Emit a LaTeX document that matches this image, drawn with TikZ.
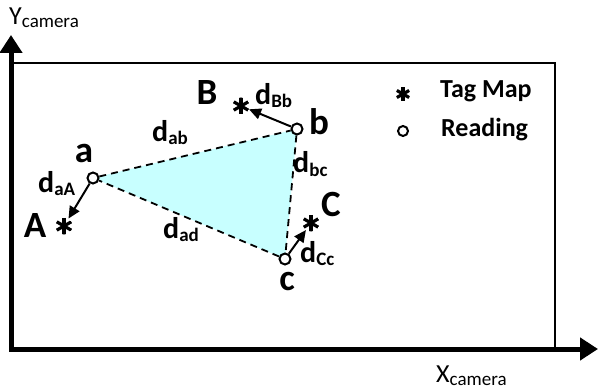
\documentclass[tikz,border=0pt]{standalone}
\usepackage{fontspec}
\setmainfont{Carlito}
\usetikzlibrary{arrows.meta,backgrounds}
\definecolor{tricyan}{RGB}{200,255,255}
\newcommand{\dlab}[1]{{\fontsize{30}{30}\selectfont d}\raisebox{-3pt}{\fontsize{19}{19}\selectfont #1}}
\newcommand{\axlab}[2]{{\fontsize{26}{26}\selectfont #1}\raisebox{-3pt}{\fontsize{19}{19}\selectfont #2}}

\begin{document}
\begin{tikzpicture}[x=1pt,y=-1pt,
  reading/.style={draw,circle,fill=white,line width=2pt,minimum size=11pt,inner sep=0pt},
  tagmark/.style={circle,minimum size=17pt,inner sep=0pt,
    path picture={\foreach \ang in {90,30,-30}
      \draw[line width=3.2pt] (path picture bounding box.center) ++(\ang:8.5pt) -- ++(\ang+180:17pt);}},
  ptlabel/.style={anchor=base,inner sep=0pt,font=\fontsize{37}{37}\selectfont\bfseries},
  dist/.style={anchor=base west,inner sep=0pt,font=\bfseries},
  legend/.style={anchor=base west,inner sep=0pt,font=\fontsize{26}{26}\selectfont\bfseries},
  axis/.style={line width=5pt,line cap=rect,-{Triangle[length=18pt,width=22pt]}},
  vec/.style={line width=2pt,-{Triangle[length=12pt,width=11pt]}},
  edge/.style={line width=1.8pt,dash pattern=on 7pt off 5pt}]
\useasboundingbox (0,0) rectangle (599,390);

% frame and axes
\draw[line width=1.3pt] (11,63) rectangle (555,349);
\coordinate (o) at (11,349);
\coordinate (ytip) at (11,35);
\coordinate (xtip) at (598,349);
\draw[axis] (o) -- (ytip);
\draw[axis] (o) -- (xtip);
\node[anchor=base west,inner sep=0pt] (ylab) at (9,25) {\axlab{Y}{camera}};
\node[anchor=base west,inner sep=0pt] (xlab) at (436,382) {\axlab{X}{camera}};

% readings and tags
\node[reading] (a) at (93,178) {};
\node[reading] (b) at (297,129) {};
\node[reading] (c) at (285,259) {};
\node[tagmark] (A) at (64,226) {};
\node[tagmark] (B) at (241,106) {};
\node[tagmark] (C) at (311,223) {};

\begin{scope}[on background layer]
\fill[tricyan] (a.center) -- (b.center) -- (c.center) -- cycle;
\end{scope}
\draw[edge] (a) -- (b);
\draw[edge] (b) -- (c);
\draw[edge] (c) -- (a);

\draw[vec] (a) -- (A);
\draw[vec] (b) -- (B);
\draw[vec] (c) -- (C);

\node[ptlabel] (la) at (84,163) {a};
\node[ptlabel] (lb) at (319,135) {b};
\node[ptlabel] (lc) at (287,290) {c};
\node[ptlabel] (lA) at (35,237) {A};
\node[ptlabel] (lB) at (207,105) {B};
\node[ptlabel] (lC) at (331,216) {C};

\node[dist] (daA) at (38,193) {\dlab{aA}};
\node[dist] (dBb) at (255,105) {\dlab{Bb}};
\node[dist] (dCc) at (300,262) {\dlab{Cc}};
\node[dist] (dab) at (152,142) {\dlab{ab}};
\node[dist] (dbc) at (293,173) {\dlab{bc}};
\node[dist] (dad) at (163,238) {\dlab{ad}};

% legend
\node[tagmark,scale=0.85] (lgtag) at (403,94) {};
\node[legend] (lgtagtxt) at (440,98) {Tag Map};
\node[reading,minimum size=10pt] (lgread) at (403,131) {};
\node[legend] (lgreadtxt) at (441,137) {Reading};
\end{tikzpicture}
\end{document}
